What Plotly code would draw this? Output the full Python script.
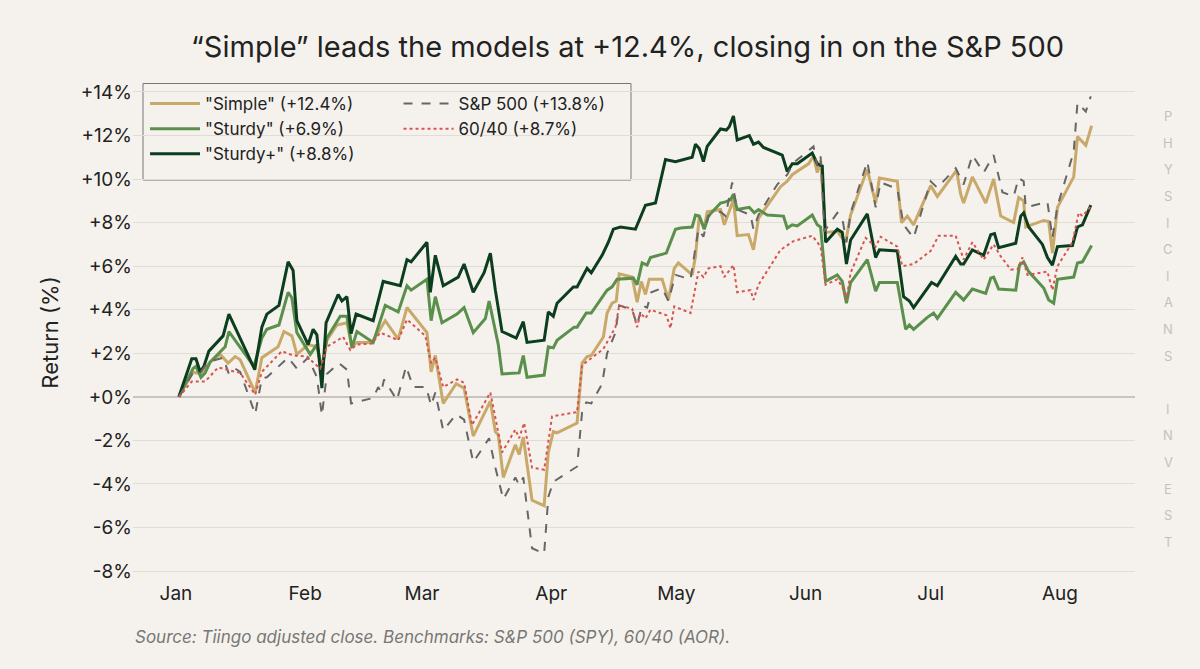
import plotly.graph_objects as go

MONTH_DAYS = [0, 31, 59, 90, 120, 151, 181, 212]
MONTH_LABELS = ["Jan", "Feb", "Mar", "Apr", "May", "Jun", "Jul", "Aug"]
Y_TICKS = [-8, -6, -4, -2, 0, 2, 4, 6, 8, 10, 12, 14]

simple_days = [0.7,4.1,4.8,6.0,8.2,10.6,12.5,14.2,15.4,19.0,20.6,24.5,25.9,27.8,29.0,31.7,33.8,35.0,36.2,38.6,41.0,42.2,43.4,47.0,50.2,53.3,55.4,60.2,61.2,62.2,64.1,67.2,69.1,71.3,75.4,76.6,77.3,78.5,81.4,82.3,83.3,85.4,88.3,89.3,90.5,91.4,96.2,97.4,98.6,99.6,102.5,103.4,104.6,105.6,106.3,109.4,110.6,111.6,112.6,113.5,116.6,118.1,119.5,120.5,123.8,124.6,125.5,126.7,127.4,130.6,131.5,133.7,134.6,137.3,138.5,139.7,145.0,146.6,147.8,151.7,152.9,153.8,154.6,155.8,158.6,160.6,161.8,165.8,167.8,168.7,173.0,174.0,175.4,176.9,181.0,182.6,187.2,188.2,188.9,191.0,194.2,196.1,197.8,200.9,202.1,203.3,203.8,208.1,209.3,210.2,211.4,215.3,216.2,218.2,219.6]
simple_vals = [0,1.15,1.1,1.1,1.6,1.95,1.55,1.85,1.7,0.2,1.8,2.3,3.0,2.8,1.95,2.4,2.3,1.25,2.6,3.3,3.4,2.3,2.5,2.5,3.5,2.65,4.1,2.95,1.15,1.9,-0.3,0.6,0.4,-1.8,-0.2,-1.6,-1.75,-3.7,-2.2,-2.65,-1.85,-4.75,-5.0,-2.55,-1.6,-1.65,-1.2,1.55,1.85,1.9,2.75,3.85,4.3,4.4,5.65,5.5,4.35,5.3,4.7,5.4,5.4,4.45,5.9,6.15,5.6,6.45,8.3,7.75,8.5,8.6,7.9,9.05,7.4,7.45,6.75,8.2,9.65,9.9,10.2,10.7,11.05,10.3,10.85,7.55,7.6,7.1,8.35,10.45,8.9,10.05,9.9,8.0,8.3,7.9,9.7,9.2,10.4,9.3,8.9,10.1,8.9,10.0,8.3,8.0,9.15,9.0,7.8,8.1,8.05,6.6,8.7,10.1,11.95,11.55,12.45]

sturdy_days = [0.7,4.1,4.8,6.0,7.0,8.2,11.8,12.7,18.7,20.6,21.8,24.7,26.9,27.8,29.0,32.2,33.8,35.0,36.2,39.4,41.0,42.2,43.4,47.3,50.2,53.3,55.4,56.4,60.2,61.2,62.2,63.8,67.4,69.1,71.3,74.2,75.1,77.3,78.2,82.3,83.3,84.2,88.3,89.3,90.5,91.4,95.5,96.2,98.4,99.6,103.4,104.6,105.8,109.7,110.6,111.8,113.0,113.8,117.6,119.8,121.0,123.8,124.6,125.5,126.7,127.7,130.6,131.8,133.0,133.7,134.6,137.5,138.7,139.7,141.8,145.7,146.6,147.8,149.0,152.6,153.8,154.6,155.8,158.6,159.8,160.8,161.8,165.8,167.8,168.7,173.0,174.0,175.0,175.9,176.9,180.2,181.7,182.6,187.0,188.9,191.0,194.2,195.4,196.1,197.3,201.4,202.3,203.3,204.5,208.1,209.3,210.5,211.4,215.3,216.2,217.4,219.6]
sturdy_vals = [0,1.3,1.4,0.9,1.1,1.6,2.3,3.0,1.4,2.7,3.1,3.3,4.8,4.55,2.95,1.95,2.4,1.25,2.7,3.7,3.7,2.25,3.0,2.5,4.2,3.9,5.1,4.9,5.4,3.5,4.6,3.4,3.8,4.1,2.95,3.6,4.4,2.4,1.05,1.1,1.9,0.9,1.0,2.3,2.25,2.6,3.2,3.2,3.85,3.85,4.9,5.05,5.4,5.45,5.15,6.15,6.05,6.4,6.6,7.7,7.75,7.8,8.35,8.3,7.7,8.3,8.9,8.95,9.05,9.3,8.6,8.7,8.45,8.6,8.35,8.3,7.75,7.9,7.85,8.35,7.9,7.8,5.3,5.6,5.3,4.3,5.25,6.3,4.85,5.25,5.25,4.25,3.1,3.3,3.1,3.65,3.85,3.6,4.8,4.45,4.95,4.75,5.45,5.5,4.95,4.9,6.05,6.2,5.75,5.0,4.45,4.3,5.4,5.5,6.15,6.2,6.95]

plus_days = [0.7,3.8,4.8,5.8,6.7,7.9,11.3,12.7,18.9,20.6,21.8,24.7,26.9,28.1,29.0,31.7,32.9,33.8,35.0,36.0,38.9,39.8,41.0,42.0,43.2,47.3,49.7,53.8,55.4,56.4,60.2,61.0,62.2,64.1,67.7,69.1,71.3,73.9,75.4,76.6,78.2,81.6,83.3,84.2,88.3,89.3,90.5,91.4,95.3,96.2,98.6,99.6,102.2,103.7,104.9,106.6,110.2,112.6,115.0,117.4,119.8,123.8,124.6,125.5,126.5,127.4,130.6,132.0,132.7,133.7,134.6,137.5,138.5,139.7,140.9,145.4,146.6,147.8,149.0,152.6,153.8,155.0,155.8,158.6,159.8,160.8,161.8,165.8,167.8,168.7,173.0,174.5,175.9,176.9,181.2,182.6,187.0,188.2,188.9,191.0,193.7,195.4,196.3,197.3,201.4,202.6,203.3,204.5,207.8,209.0,210.2,211.4,215.0,216.2,217.4,219.4]
plus_vals = [0,1.75,1.75,1.15,1.4,2.1,2.8,3.8,1.25,3.2,3.8,4.2,6.2,5.8,3.5,2.4,3.1,2.85,0.4,3.4,4.7,4.4,4.6,2.9,3.8,3.5,5.3,5.1,6.3,6.2,7.1,4.8,6.5,5.1,5.5,6.1,4.8,5.7,6.6,4.9,3.0,2.7,3.45,2.5,2.6,3.9,3.7,4.3,5.05,5.05,5.9,5.7,6.5,7.1,7.7,7.8,7.7,8.8,8.9,10.9,10.8,11.0,11.6,11.4,10.8,11.5,12.3,12.25,12.4,12.9,11.8,12.0,11.6,11.7,11.45,11.1,10.35,10.7,10.7,11.2,10.7,10.6,7.1,7.7,7.55,6.1,7.2,8.4,6.4,6.75,6.7,4.6,4.4,4.1,5.25,5.1,6.45,6.1,6.1,6.75,6.5,7.45,7.5,6.85,7.05,8.3,8.45,7.8,7.0,6.4,6.05,6.9,6.95,7.8,7.9,8.8]

spx_days = [0.7,4.1,5.8,7.7,11.3,12.7,14.2,15.4,19.0,20.6,21.8,26.9,29.0,31.7,33.8,35.0,36.2,39.1,41.0,42.0,47.3,48.5,49.2,49.9,53.0,55.2,56.9,60.0,61.2,62.2,64.1,67.2,69.1,71.3,75.1,76.6,78.5,81.4,82.3,83.3,85.4,88.3,89.3,90.5,96.2,97.4,98.4,99.6,102.2,103.4,105.4,106.3,109.4,110.6,111.8,113.0,114.0,116.6,118.1,119.8,123.4,125.3,126.5,127.7,130.6,131.8,133.4,134.6,137.8,138.5,139.7,144.2,146.6,148.1,151.0,152.9,153.8,154.6,155.5,158.6,159.8,160.8,161.8,165.8,167.8,169.0,173.0,174.5,176.9,181.0,182.6,187.0,188.9,191.0,193.7,196.1,198.2,200.9,202.1,203.3,203.8,209.0,210.2,211.4,215.3,216.2,218.2,219.4]
spx_vals = [0,1.1,1.1,1.6,1.8,1.05,1.3,1.15,-0.8,0.85,0.9,1.8,1.3,1.8,0.9,-0.85,1.05,1.55,1.25,-0.3,-0.05,0.45,0.2,0.8,-0.15,1.4,0.45,0.45,-0.4,0.2,-1.55,-0.8,-1.05,-3.0,-1.9,-3.25,-4.7,-3.7,-4.05,-3.7,-6.95,-7.2,-4.6,-3.9,-3.2,-0.7,-0.25,-0.3,0.6,2.0,2.95,4.2,4.0,3.3,4.2,4.1,4.8,5.0,4.4,5.6,5.4,7.7,7.35,8.3,8.5,8.3,9.85,8.6,8.35,7.7,8.35,9.75,10.2,10.75,11.2,11.5,10.6,11.05,7.6,8.45,8.2,7.1,8.45,10.8,8.7,9.85,9.55,7.9,7.3,9.9,9.6,10.5,9.75,11.1,10.3,11.1,9.4,9.2,10.05,9.9,8.7,8.95,7.3,8.75,11.25,13.5,13.1,13.8]

b6040_days = [0.7,3.8,7.0,10.1,12.2,15.4,19.0,20.6,25.4,28.1,31.4,34.6,36.2,40.1,41.8,43.4,47.0,49.0,53.3,55.4,59.8,61.2,62.2,64.1,67.4,69.1,71.0,75.4,76.6,78.2,81.4,82.3,83.5,85.4,88.3,90.2,96.2,97.4,102.5,105.4,106.3,109.4,110.6,111.4,112.6,113.8,117.6,118.6,119.5,123.4,125.3,126.5,127.7,130.6,131.5,133.7,134.6,137.8,138.5,139.7,145.0,148.1,152.6,153.8,154.6,155.8,158.6,159.8,160.8,161.8,165.4,167.8,169.0,173.0,174.2,176.9,181.0,182.9,187.0,188.9,191.0,193.7,196.1,197.8,200.2,201.8,203.0,204.2,209.0,210.2,211.4,215.0,216.5,217.4,219.4]
b6040_vals = [0,0.7,0.7,1.35,1.25,1.1,0.1,1.15,2.1,1.9,1.85,1.3,2.3,2.75,2.15,2.4,2.45,2.95,2.6,3.55,2.8,1.55,1.8,0.45,0.8,0.65,-1.3,0.2,-0.95,-2.55,-1.5,-1.9,-1.2,-3.25,-3.35,-0.9,-0.7,1.45,2.2,3.2,4.2,4.05,3.2,3.85,3.6,4.0,3.75,3.15,4.15,3.85,5.75,5.5,5.9,6.0,5.5,6.05,4.8,4.9,4.45,5.15,6.75,7.15,7.4,7.1,6.9,5.15,5.4,5.05,4.45,5.7,7.3,6.9,7.35,6.9,6.0,6.1,6.7,7.4,7.4,6.3,7.1,6.3,7.0,6.45,5.85,5.85,6.4,5.6,5.75,4.9,6.0,7.1,8.45,8.3,8.75]

FONT = "Inter, Roboto, sans-serif"
BG = "#f5f2ed"

fig = go.Figure()
series = [
    ('"Simple" (+12.4%)', simple_days, simple_vals, "#c9a96a", "solid", 3, "legend"),
    ('"Sturdy" (+6.9%)', sturdy_days, sturdy_vals, "#5a8f4c", "solid", 3, "legend"),
    ('"Sturdy+" (+8.8%)', plus_days, plus_vals, "#0c3d1e", "solid", 3, "legend"),
    ("S&P 500 (+13.8%)", spx_days, spx_vals, "#666666", "dash", 2, "legend2"),
    ("60/40 (+8.7%)", b6040_days, b6040_vals, "#d9534f", "dot", 2, "legend2"),
]
for name, d, v, c, dash, w, lg in series:
    fig.add_trace(go.Scatter(x=d, y=v, mode="lines", name=name, legend=lg,
                             line=dict(color=c, dash=dash, width=w)))

legend_common = dict(bgcolor="rgba(0,0,0,0)", borderwidth=0,
                     font=dict(family=FONT, size=17, color="#222"),
                     xanchor="left", yanchor="top", tracegroupgap=0, itemwidth=50)
fig.update_layout(
    paper_bgcolor=BG, plot_bgcolor=BG,
    margin=dict(l=133, r=65, t=85, b=89),
    title=dict(text="“Simple” leads the models at +12.4%, closing in on the S&P 500",
               x=0.523, xanchor="center", y=0.93, yanchor="middle",
               font=dict(family=FONT, size=29, color="#222")),
    legend=dict(x=0.012, y=0.998, **legend_common),
    legend2=dict(x=0.265, y=0.998, **legend_common),
    xaxis=dict(range=[-10.3, 230], tickvals=MONTH_DAYS, ticktext=MONTH_LABELS,
               showgrid=False, zeroline=False, showline=False,
               tickfont=dict(family=FONT, size=19, color="#222")),
    yaxis=dict(range=[-8.41, 14.32], tickvals=Y_TICKS,
               ticktext=[("+" if t >= 0 else "") + f"{t}%" for t in Y_TICKS],
               gridcolor="#e0ddd7", gridwidth=1, zeroline=True, zerolinecolor="#c8c5c0",
               zerolinewidth=1.5, showline=False,
               tickfont=dict(family=FONT, size=19, color="#222"),
               title=dict(text="Return (%)", font=dict(family=FONT, size=22, color="#222"), standoff=16)),
    showlegend=True,
)
fig.add_shape(type="rect", xref="paper", yref="paper", x0=0.01, x1=0.497, y0=0.808, y1=1.003,
              line=dict(color="#777", width=1), fillcolor="rgba(245,242,237,0.85)", layer="below")
fig.add_annotation(text="<i>Source: Tiingo adjusted close. Benchmarks: S&P 500 (SPY), 60/40 (AOR).</i>",
                   xref="paper", yref="paper", x=0.0, y=-0.09, xanchor="left", yanchor="top",
                   showarrow=False, font=dict(family=FONT, size=17, color="#777"))
wm = "PHYSICIANS INVEST"
n = len(wm)
for i, ch in enumerate(wm):
    if ch == " ":
        continue
    fig.add_annotation(text=ch, xref="paper", yref="paper", x=1.033,
                       y=0.937 - i * (0.937 - 0.077) / (n - 1),
                       xanchor="center", yanchor="middle", showarrow=False,
                       font=dict(family=FONT, size=13, color="#c4c1bc"))
fig.write_html("out.html", default_width="100vw", default_height="100vh",
               config={"displayModeBar": False},
               post_script="document.body.style.margin='0';document.body.style.overflow='hidden';"
                           "Plotly.Plots.resize(document.getElementById('{plot_id}'));")
